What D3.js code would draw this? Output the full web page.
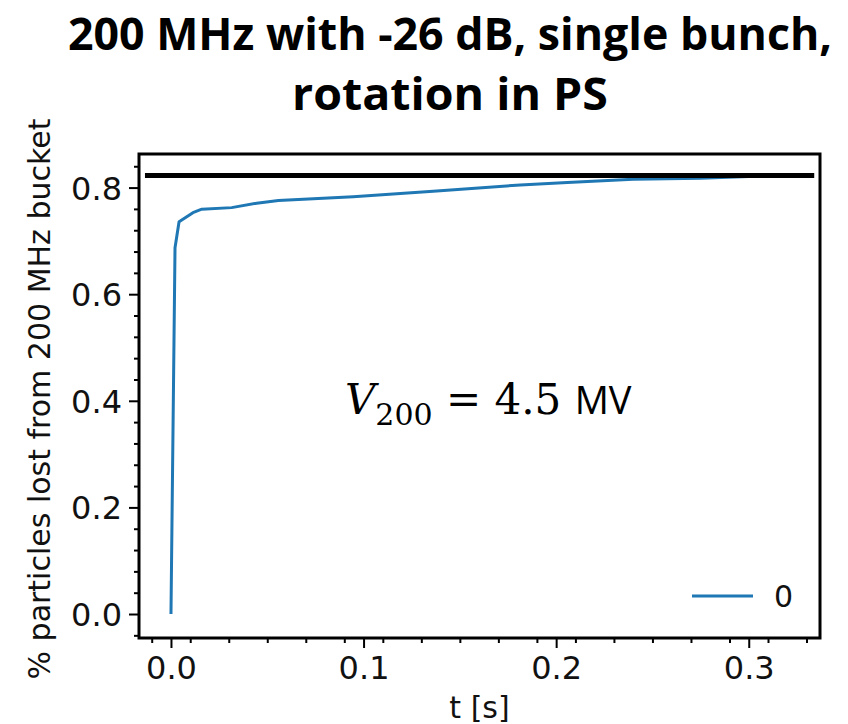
<!DOCTYPE html>
<html>
<head>
<meta charset="utf-8">
<script src="https://cdn.jsdelivr.net/npm/d3@7"></script>
<style>
  body { margin: 0; background: #fff; }
  svg { display: block; }
  .tick text { font-family: 'DejaVu Sans', sans-serif; }
</style>
</head>
<body>
<div id="chart"></div>
<script>
// curve: time [s] and fraction lost
const tValues = [0, 0.0021, 0.0042, 0.0082, 0.0114, 0.016, 0.0315, 0.0445, 0.0558,
  0.0946, 0.138, 0.1814, 0.2058, 0.24, 0.275, 0.30]
const lostValues = [0, 0.687, 0.736, 0.7455, 0.753, 0.7594, 0.7624, 0.7707, 0.7756,
  0.783, 0.7938, 0.805, 0.8094, 0.8157, 0.8176, 0.821]

// reference level (black line)
const refLevel = 0.8225
const refSpan = [-0.0135, 0.334]

const xTicks = [0.0, 0.1, 0.2, 0.3]
const yTicks = [0.0, 0.2, 0.4, 0.6, 0.8]
const titleLines = ['200 MHz with -26 dB, single bunch,', 'rotation in PS']
const legendLabel = '0'

const width = 848
const height = 724
const margin = { top: 154, left: 139, right: 28, bottom: 86 }
const plotW = width - margin.left - margin.right
const plotH = height - margin.top - margin.bottom

const svg = d3.select('#chart')
  .append('svg')
  .attr('width', width)
  .attr('height', height)

const x = d3.scaleLinear().domain([-0.0166, 0.337]).range([0, plotW])
const y = d3.scaleLinear().domain([-0.045, 0.863]).range([plotH, 0])

const g = svg.append('g')
  .attr('transform', `translate(${margin.left},${margin.top})`)

// title
svg.selectAll('.title')
  .data(titleLines)
  .enter()
  .append('text')
  .attr('class', 'title')
  .attr('x', 450)
  .attr('y', (d, i) => 50 + i * 60)
  .attr('text-anchor', 'middle')
  .attr('font-family', "'Open Sans', sans-serif")
  .attr('font-weight', 'bold')
  .attr('font-size', 45)
  .attr('textLength', (d, i) => (i === 0 ? 764 : 316))
  .attr('lengthAdjust', 'spacingAndGlyphs')
  .text(d => d)

// minor ticks
const xMinor = d3.range(-0.01, 0.34, 0.02).map(d => +d.toFixed(3))
  .filter(d => Math.abs(Math.round(d * 10) - d * 10) > 1e-6)
const yMinor = d3.range(-0.04, 0.87, 0.04).map(d => +d.toFixed(3))
  .filter(d => Math.abs(Math.round(d * 5) - d * 5) > 1e-6)

g.append('g')
  .attr('transform', `translate(0,${plotH})`)
  .call(d3.axisBottom(x).tickValues(xMinor).tickSize(5).tickFormat(''))
g.append('g')
  .call(d3.axisLeft(y).tickValues(yMinor).tickSize(5).tickFormat(''))

// major axes
const xAxis = g.append('g')
  .attr('transform', `translate(0,${plotH})`)
  .call(d3.axisBottom(x).tickValues(xTicks).tickSize(10).tickPadding(8).tickFormat(d3.format('.1f')))
const yAxis = g.append('g')
  .call(d3.axisLeft(y).tickValues(yTicks).tickSize(10).tickPadding(7).tickFormat(d3.format('.1f')))

g.selectAll('.domain').remove()
g.selectAll('.tick line').attr('stroke', '#000').attr('stroke-width', 2)
xAxis.selectAll('text').attr('font-size', 32).attr('fill', '#111')
yAxis.selectAll('text').attr('font-size', 32).attr('fill', '#111').attr('dy', '0.36em')

// frame
g.append('rect')
  .attr('width', plotW)
  .attr('height', plotH)
  .attr('fill', 'none')
  .attr('stroke', '#000')
  .attr('stroke-width', 3)

// curve
const data = tValues.map((t, i) => ({ t, v: lostValues[i] }))
const line = d3.line().x(d => x(d.t)).y(d => y(d.v))
g.append('path')
  .datum(data)
  .attr('d', line)
  .attr('fill', 'none')
  .attr('stroke', '#1f77b4')
  .attr('stroke-width', 3)
  .attr('stroke-linejoin', 'round')

// reference level
g.append('line')
  .attr('x1', x(refSpan[0]))
  .attr('x2', x(refSpan[1]))
  .attr('y1', y(refLevel))
  .attr('y2', y(refLevel))
  .attr('stroke', '#000')
  .attr('stroke-width', 5)

// legend
g.append('line')
  .attr('x1', 553).attr('x2', 614)
  .attr('y1', 442).attr('y2', 442)
  .attr('stroke', '#1f77b4')
  .attr('stroke-width', 3)
g.append('text')
  .attr('x', 635).attr('y', 453)
  .attr('font-family', "'DejaVu Sans', sans-serif")
  .attr('font-size', 30)
  .attr('fill', '#111')
  .text(legendLabel)

// annotation
const ann = svg.append('text')
  .attr('x', 345)
  .attr('y', 414)
  .attr('font-size', 42)
  .attr('fill', '#000')
ann.append('tspan')
  .attr('font-family', "'DejaVu Serif', serif")
  .attr('font-style', 'italic')
  .text('V')
ann.append('tspan')
  .attr('font-family', "'DejaVu Serif', serif")
  .attr('font-size', 30)
  .attr('dy', 11)
  .text('200')
ann.append('tspan')
  .attr('font-family', "'DejaVu Serif', serif")
  .attr('dy', -11)
  .text(' = 4.5 ')
ann.append('tspan')
  .attr('font-family', "'Open Sans', sans-serif")
  .attr('font-size', 38)
  .text('MV')

// axis labels
svg.append('text')
  .attr('x', margin.left + plotW / 2)
  .attr('y', 718)
  .attr('text-anchor', 'middle')
  .attr('font-family', "'DejaVu Sans', sans-serif")
  .attr('font-size', 30)
  .attr('fill', '#111')
  .text('t [s]')

svg.append('text')
  .attr('transform', `translate(50,${(118 + 680) / 2}) rotate(-90)`)
  .attr('text-anchor', 'middle')
  .attr('font-family', "'DejaVu Sans', sans-serif")
  .attr('font-size', 30)
  .attr('fill', '#111')
  .text('% particles lost from 200 MHz bucket')
</script>
</body>
</html>
